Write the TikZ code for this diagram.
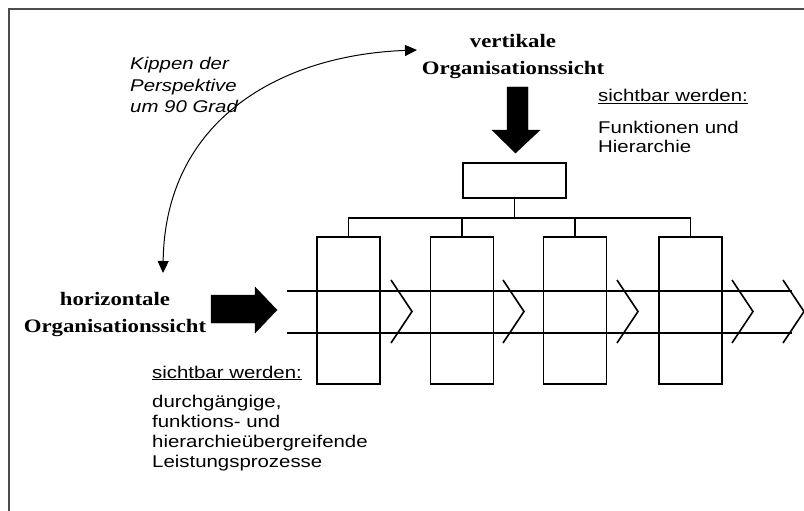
\documentclass[tikz,border=0pt]{standalone}
\usepackage{fontspec}
\setmainfont{Liberation Serif}
\newfontfamily\sansst[FakeStretch=1.2]{Liberation Sans}
\newfontfamily\serifst[FakeStretch=1.2]{Liberation Serif}
\usetikzlibrary{arrows.meta}
\begin{document}
\begin{tikzpicture}[x=1pt,y=-1pt,
  fbox/.style={draw, line width=1.3pt, minimum width=63pt, minimum height=147pt, inner sep=0pt},
  topbox/.style={draw, line width=1.3pt, minimum width=103pt, minimum height=35pt, inner sep=0pt},
  tree/.style={line width=1.1pt},
  proc/.style={line width=2pt},
  chev/.style={line width=1.6pt},
  bigarrow/.style={fill=black},
  turn/.style={line width=1pt, {Triangle[width=11pt,length=12pt]}-{Triangle[width=11pt,length=12pt]}},
  sanstext/.style={font=\sansst\fontsize{17}{20}\selectfont, inner sep=0pt, anchor=base west},
  italtext/.style={font=\sansst\itshape\fontsize{17}{20}\selectfont, inner sep=0pt, anchor=base west},
  boldtext/.style={font=\serifst\bfseries\fontsize{19}{27}\selectfont, inner sep=0pt, anchor=base}
]
\useasboundingbox (0,0) rectangle (804,511);
\draw[line width=1.5pt, black!70] (9,511) -- (9,9) -- (804,9);

% organisation boxes
\node[topbox] (top) at (514.5,180.5) {};
\node[fbox] (f1) at (348.5,310.5) {};
\node[fbox] (f2) at (462,310.5) {};
\node[fbox] (f3) at (575,310.5) {};
\node[fbox] (f4) at (690.5,310.5) {};
\coordinate (bar) at (514.5,218);
\draw[tree] (top.south) -- (bar);
\draw[tree] (f1.north) -- (f1.north |- bar) -- (f4.north |- bar) -- (f4.north);
\draw[tree] (f2.north) -- (f2.north |- bar);
\draw[tree] (f3.north) -- (f3.north |- bar);

% process lines
\coordinate (pa) at (287,291);
\coordinate (pb) at (792,291);
\coordinate (pc) at (287,333);
\coordinate (pd) at (792,333);
\draw[proc] (pa) -- (pb);
\draw[proc] (pc) -- (pd);
\foreach \cx in {391,503,617,732,783}
  \draw[chev] (\cx,280) -- (\cx+21,311.5) -- (\cx,343);

% big arrows
\draw[bigarrow] (507,87) -- (528,87) -- (528,130) -- (540,130) -- (515.5,153) -- (492,130) -- (507,130) -- cycle;
\draw[bigarrow] (211,295) -- (255,295) -- (255,287) -- (277,310) -- (255,333) -- (255,323) -- (211,323) -- cycle;

% turning arrow
\coordinate (cs) at (163,273);
\coordinate (ce) at (417,50);
\draw[turn] (cs) .. controls (165,120) and (280,55) .. (ce);

% texts
\node[boldtext] (v1) at (513,48) {vertikale};
\node[boldtext] (v2) at (513,75) {Organisationssicht};
\node[boldtext] (h1) at (115,305) {horizontale};
\node[boldtext] (h2) at (115,332) {Organisationssicht};

\node[italtext] (k1) at (130,70) {Kippen der};
\node[italtext] (k2) at (130,92) {Perspektive};
\node[italtext] (k3) at (130,113) {um 90 Grad};

\node[sanstext] (s1) at (598,102) {\underline{sichtbar werden:}};
\node[sanstext] (s2) at (598,133) {Funktionen und};
\node[sanstext] (s3) at (598,153) {Hierarchie};

\node[sanstext] (t1) at (152,378) {\underline{sichtbar werden:}};
\node[sanstext] (t2) at (152,407) {durchgängige,};
\node[sanstext] (t3) at (152,427) {funktions- und};
\node[sanstext] (t4) at (152,447) {hierarchieübergreifende};
\node[sanstext] (t5) at (152,467) {Leistungsprozesse};
\end{tikzpicture}
\end{document}
